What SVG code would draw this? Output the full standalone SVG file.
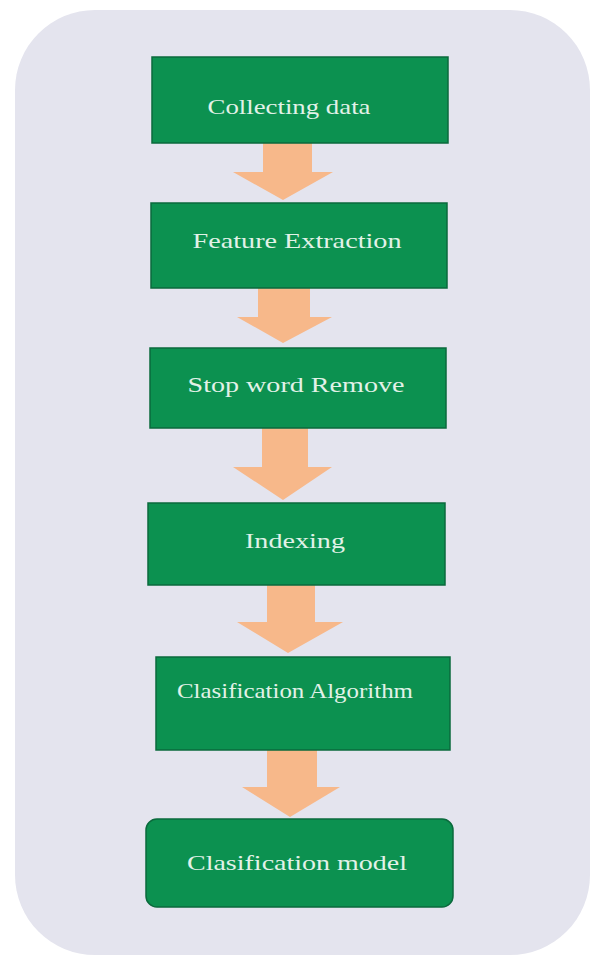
<svg xmlns="http://www.w3.org/2000/svg" width="596" height="960" viewBox="0 0 596 960">
<style>
.box{fill:#0c9150;stroke:#0a6a3c;stroke-width:1.5}
.lbl{font-family:"Liberation Serif","Times New Roman",serif;font-size:21px;fill:#e2f2e8;text-anchor:middle}
.arr{fill:#f7b88a}
</style>
<rect x="0" y="0" width="596" height="960" fill="#ffffff"/>
<rect x="15" y="10" width="575" height="945" rx="80" ry="80" fill="#e4e4ee"/>
<g id="connectors">
<polygon class="arr" points="263,143 312,143 312,172 333,172 283,200 233,172 263,172"/>
<polygon class="arr" points="258,288 310,288 310,317 332,317 283,343 237,317 258,317"/>
<polygon class="arr" points="262,428 308,428 308,467 332,467 283,500 233,467 262,467"/>
<polygon class="arr" points="267,585 315,585 315,622 343,622 288,653 237,622 267,622"/>
<polygon class="arr" points="267,750 317,750 317,787 340,787 290,817 242,787 267,787"/>
</g>
<g id="n1"><rect class="box" x="152" y="57" width="296" height="86"/><text class="lbl" x="289" y="114" textLength="163" lengthAdjust="spacingAndGlyphs">Collecting data</text></g>
<g id="n2"><rect class="box" x="151" y="203" width="296" height="85"/><text class="lbl" x="297" y="248" textLength="209" lengthAdjust="spacingAndGlyphs">Feature Extraction</text></g>
<g id="n3"><rect class="box" x="150" y="348" width="296" height="80"/><text class="lbl" x="296" y="392" textLength="217" lengthAdjust="spacingAndGlyphs">Stop word Remove</text></g>
<g id="n4"><rect class="box" x="148" y="503" width="297" height="82"/><text class="lbl" x="295" y="548" textLength="100" lengthAdjust="spacingAndGlyphs">Indexing</text></g>
<g id="n5"><rect class="box" x="156" y="657" width="294" height="93"/><text class="lbl" x="295" y="698" textLength="236" lengthAdjust="spacingAndGlyphs">Clasification Algorithm</text></g>
<g id="n6"><rect class="box" x="146" y="819" width="307" height="88" rx="11" ry="11"/><text class="lbl" x="297" y="870" textLength="220" lengthAdjust="spacingAndGlyphs">Clasification model</text></g>
</svg>
